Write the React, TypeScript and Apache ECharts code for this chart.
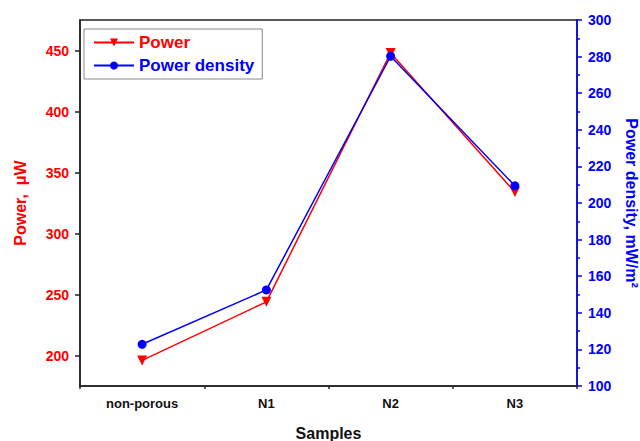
import React, { useEffect, useRef } from "react";
import * as echarts from "echarts";

const categories = ["non-porous", "N1", "N2", "N3"];
const powerValues = [196, 244, 448, 334];
const densityValues = [122.8, 152.5, 280.2, 209.4];
const leftTicks = [200, 250, 300, 350, 400, 450];

const RED = "#ff0000";
const BLUE = "#0000ff";
const FONT = "Liberation Sans, Arial, sans-serif";

export default function App() {
  const ref = useRef<HTMLDivElement>(null);
  useEffect(() => {
    if (!ref.current) return;
    const chart = echarts.init(ref.current, undefined, { renderer: "svg" });
    chart.setOption({
      animation: false,
      backgroundColor: "#ffffff",
      textStyle: { fontFamily: FONT },
      grid: {
        left: 80,
        right: 63,
        top: 20,
        bottom: 55,
        outerBoundsMode: "none",
        containLabel: false,
        show: true,
        borderColor: "#222",
        borderWidth: 1.5,
        backgroundColor: "transparent",
      },
      legend: {
        left: 84,
        top: 29,
        orient: "vertical",
        padding: [5, 8, 5, 9],
        itemGap: 6,
        itemWidth: 40,
        itemHeight: 10,
        borderColor: "#888",
        borderWidth: 1,
        textStyle: { fontFamily: FONT, fontWeight: "bold", fontSize: 17 },
        data: [
          { name: "Power", textStyle: { color: RED } },
          { name: "Power density", textStyle: { color: BLUE } },
        ],
      },
      xAxis: [
        {
          type: "category",
          data: categories,
          boundaryGap: true,
          name: "Samples",
          nameLocation: "middle",
          nameGap: 39,
          nameTextStyle: { color: "#111", fontWeight: "bold", fontSize: 16, fontFamily: FONT },
          axisLine: { lineStyle: { color: "#222", width: 1.5 } },
          axisTick: { alignWithLabel: true, length: 6, lineStyle: { color: "#222", width: 1.5 } },
          axisLabel: { color: "#111", fontWeight: "bold", fontSize: 13, margin: 11, fontFamily: FONT },
          splitLine: { show: false },
        },
        {
          type: "category",
          data: categories,
          boundaryGap: true,
          position: "bottom",
          axisLine: { show: false },
          axisTick: { show: true, length: 3, lineStyle: { color: "#222", width: 1.5 } },
          axisLabel: { show: false },
          splitLine: { show: false },
        },
      ],
      yAxis: [
        {
          type: "value",
          min: 175,
          max: 475,
          interval: 25,
          position: "left",
          name: "Power,  μW",
          nameLocation: "middle",
          nameGap: 52,
          nameTextStyle: { color: RED, fontWeight: "bold", fontSize: 16, fontFamily: FONT },
          axisLine: { show: true, lineStyle: { color: "#222", width: 1.5 } },
          axisTick: { show: true, length: 5, customValues: leftTicks, lineStyle: { color: "#222", width: 1.5 } },
          axisLabel: { color: RED, fontWeight: "bold", fontSize: 14, margin: 11, customValues: leftTicks, fontFamily: FONT },
          splitLine: { show: false },
        },
        {
          type: "value",
          min: 100,
          max: 300,
          interval: 20,
          position: "right",
          name: "Power density, mW/m²",
          nameLocation: "middle",
          nameRotate: -90,
          nameGap: 46,
          nameTextStyle: { color: BLUE, fontWeight: "bold", fontSize: 16, fontFamily: FONT },
          axisLine: { show: true, lineStyle: { color: BLUE, width: 1.5 } },
          axisTick: { show: true, length: 5, lineStyle: { color: BLUE, width: 1.5 } },
          minorTick: { show: true, splitNumber: 2, length: 3, lineStyle: { color: BLUE, width: 1.5 } },
          axisLabel: { color: BLUE, fontWeight: "bold", fontSize: 14, margin: 11, fontFamily: FONT },
          splitLine: { show: false },
        },
      ],
      series: [
        {
          name: "Power",
          type: "line",
          xAxisIndex: 0,
          yAxisIndex: 0,
          data: powerValues,
          symbol: "triangle",
          symbolRotate: 180,
          symbolSize: 10,
          lineStyle: { color: RED, width: 1.5 },
          itemStyle: { color: RED },
        },
        {
          name: "Power density",
          type: "line",
          xAxisIndex: 0,
          yAxisIndex: 1,
          data: densityValues,
          symbol: "circle",
          symbolSize: 9,
          lineStyle: { color: BLUE, width: 1.5 },
          itemStyle: { color: BLUE },
        },
      ],
    });
    return () => chart.dispose();
  }, []);
  return (
    <div
      ref={ref}
      style={{ position: "fixed", left: 0, top: 0, width: 640, height: 441, background: "#fff" }}
    />
  );
}
